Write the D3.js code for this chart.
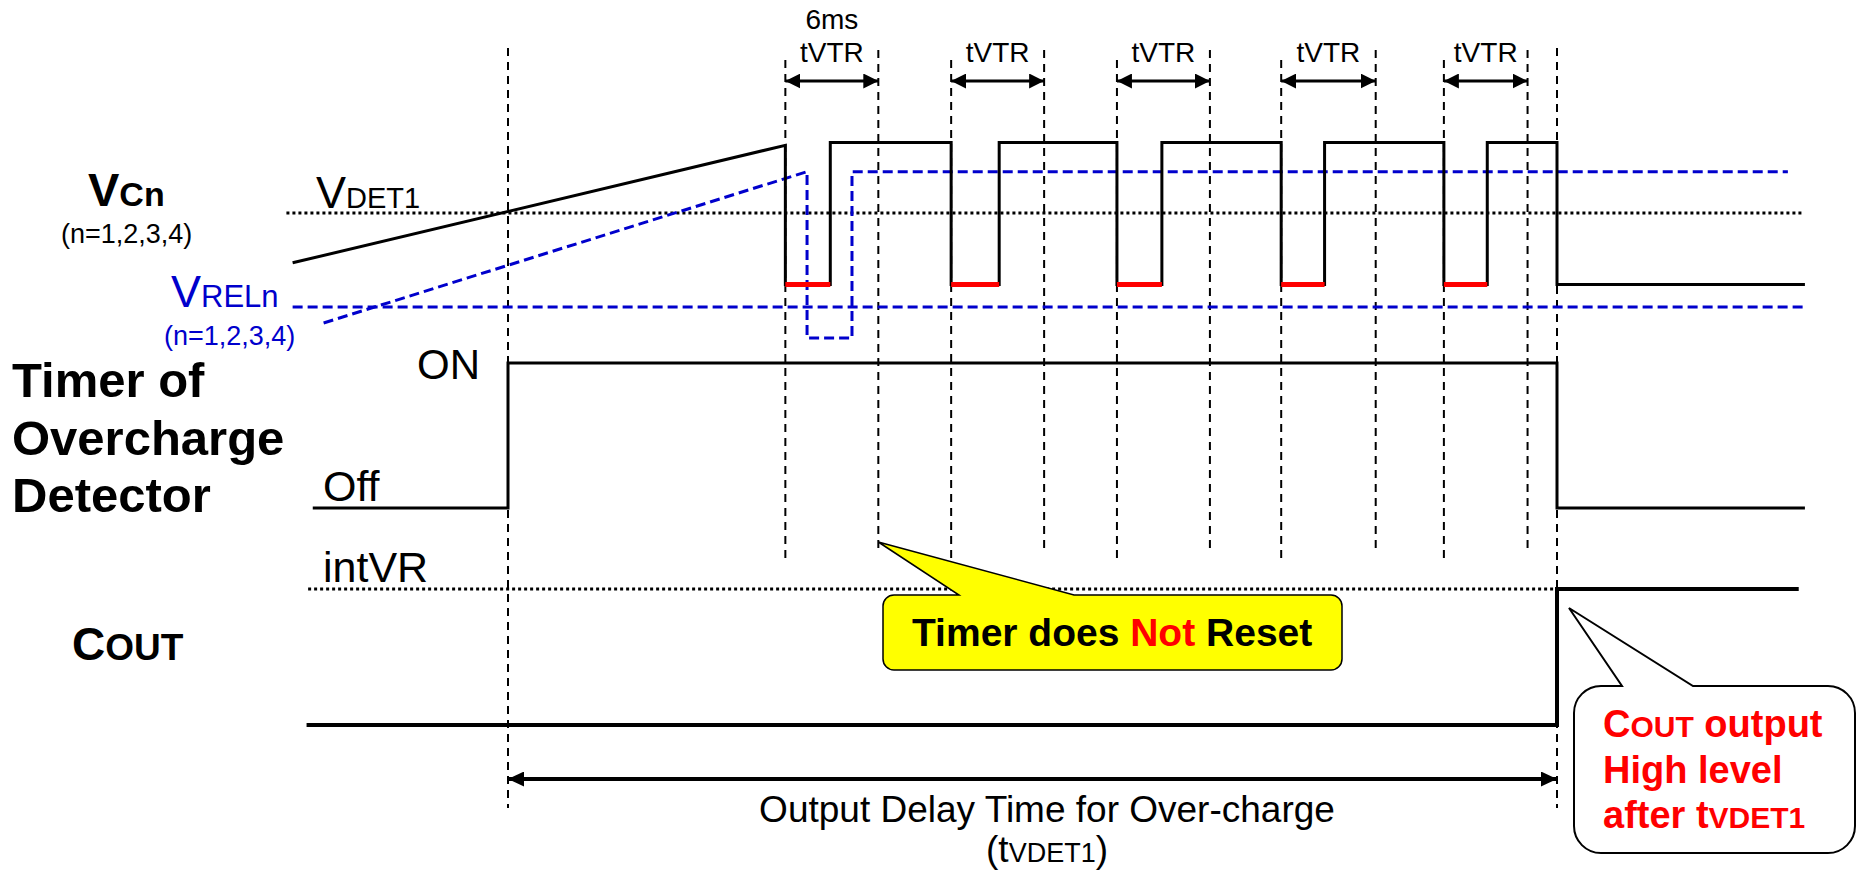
<!DOCTYPE html>
<html><head><meta charset="utf-8">
<script src="https://cdn.jsdelivr.net/npm/d3@7"></script>
<style>
html,body{margin:0;padding:0;background:#fff;}
svg{display:block;font-family:"Liberation Sans",Arial,sans-serif;}
</style>
</head><body>
<svg id="c" width="1858" height="878"></svg>
<script>
// ================= DATA =================
// time axis (arbitrary units, 6 units = tVTR = 6ms)
const tLeft = -13.9, tRight = 83.7;
const detectStart = 0;        // Vcn crosses VDET1 -> timer ON
const detectEnd = 67.7;       // tVDET1 elapsed -> COUT high
const pulseStart = [17.9, 28.6, 39.3, 49.9, 60.4];
const pulseEnd   = [20.8, 31.7, 42.2, 52.7, 63.2];
const tvtrEnd    = [23.9, 34.6, 45.3, 56.0, 65.8];
const tvtrLabels = ["tVTR", "tVTR", "tVTR", "tVTR", "tVTR"];
const firstTvtrValue = "6ms";

// voltage levels (V)
const vDet1 = 4.25, vRel = 4.15;
const vcnRampStart = 4.197, vcnRampEnd = 4.322, vcnHigh = 4.325, vcnLow = 4.174;
const relTimes  = [-11.9, 19.3, 19.3, 22.2, 22.2, 82.6];
const relValues = [4.133, 4.294, 4.117, 4.117, 4.294, 4.294];

// timer & COUT states
const timerStates = ["Off", "ON"];
const coutStates  = ["Low", "High"];
const timerTimes  = [-12.6, 0, 0, 67.7, 67.7, 83.7];
const timerValues = ["Off", "Off", "ON", "ON", "Off", "Off"];
const coutTimes   = [-13.0, 67.7, 67.7, 83.3];
const coutValues  = ["Low", "Low", "High", "High"];
const intVRStart = -12.9;

// ================= SCALES =================
const svg = d3.select("#c");
const x = d3.scaleLinear().domain([detectStart, detectEnd]).range([508, 1557]);
const yV = d3.scaleLinear().domain([vDet1, vRel]).range([213, 307]);
const yT = d3.scalePoint().domain(timerStates).range([508, 363]);
const yC = d3.scalePoint().domain(coutStates).range([725, 589]);

// ================= DEFS =================
const defs = svg.append("defs");
function marker(id, len, w) {
  defs.append("marker").attr("id", id)
    .attr("viewBox", `0 0 ${len} ${w}`).attr("refX", len).attr("refY", w / 2)
    .attr("markerWidth", len).attr("markerHeight", w)
    .attr("markerUnits", "userSpaceOnUse").attr("orient", "auto-start-reverse")
    .append("path").attr("d", `M0,0L${len},${w / 2}L0,${w}Z`).attr("fill", "#000");
}
marker("ah", 15, 15);
marker("ah2", 16, 15);

// ================= VERTICAL DASHED GUIDES =================
const gGuide = svg.append("g").attr("stroke", "#000").attr("stroke-width", 2)
  .attr("stroke-dasharray", "8,6").attr("fill", "none");
[detectStart, detectEnd].forEach(t => gGuide.append("line")
  .attr("x1", x(t)).attr("x2", x(t)).attr("y1", 48).attr("y2", 808));
pulseStart.forEach(t => gGuide.append("line")
  .attr("x1", x(t)).attr("x2", x(t)).attr("y1", 60).attr("y2", 562));
tvtrEnd.forEach(t => gGuide.append("line")
  .attr("x1", x(t)).attr("x2", x(t)).attr("y1", 50).attr("y2", 552));

// ================= REFERENCE LEVELS =================
svg.append("line").attr("x1", x(-14.3)).attr("x2", x(83.6))
  .attr("y1", yV(vDet1)).attr("y2", yV(vDet1))
  .attr("stroke", "#000").attr("stroke-width", 3).attr("stroke-dasharray", "3,3");
svg.append("line").attr("x1", x(-13.9)).attr("x2", x(83.7))
  .attr("y1", yV(vRel)).attr("y2", yV(vRel))
  .attr("stroke", "#0000cc").attr("stroke-width", 3).attr("stroke-dasharray", "10,5");
svg.append("line").attr("x1", x(intVRStart)).attr("x2", x(detectEnd))
  .attr("y1", yC("High")).attr("y2", yC("High"))
  .attr("stroke", "#000").attr("stroke-width", 3).attr("stroke-dasharray", "3,3");

// ================= VREL (blue dashed) =================
const relPts = relTimes.map((t, i) => [t, relValues[i]]);
svg.append("path").datum(relPts)
  .attr("d", d3.line().x(d => x(d[0])).y(d => yV(d[1])))
  .attr("fill", "none").attr("stroke", "#0000cc").attr("stroke-width", 3)
  .attr("stroke-dasharray", "10,5");

// ================= VCN waveform =================
const vcnPts = [[tLeft, vcnRampStart], [pulseStart[0], vcnRampEnd]];
pulseStart.forEach((s, i) => {
  if (i > 0) vcnPts.push([s, vcnHigh]);
  vcnPts.push([s, vcnLow], [pulseEnd[i], vcnLow], [pulseEnd[i], vcnHigh]);
});
vcnPts.push([detectEnd, vcnHigh], [detectEnd, vcnLow], [tRight, vcnLow]);
svg.append("path").datum(vcnPts)
  .attr("d", d3.line().x(d => x(d[0])).y(d => yV(d[1])))
  .attr("fill", "none").attr("stroke", "#000").attr("stroke-width", 3)
  .attr("stroke-linejoin", "miter");
svg.append("g").selectAll("line").data(pulseStart).join("line")
  .attr("x1", d => x(d)).attr("x2", (d, i) => x(pulseEnd[i]))
  .attr("y1", yV(vcnLow)).attr("y2", yV(vcnLow))
  .attr("stroke", "#ff0000").attr("stroke-width", 5);

// ================= TIMER =================
svg.append("path").datum(timerTimes.map((t, i) => [t, timerValues[i]]))
  .attr("d", d3.line().x(d => x(d[0])).y(d => yT(d[1])))
  .attr("fill", "none").attr("stroke", "#000").attr("stroke-width", 3);

// ================= COUT =================
svg.append("path").datum(coutTimes.map((t, i) => [t, coutValues[i]]))
  .attr("d", d3.line().x(d => x(d[0])).y(d => yC(d[1])))
  .attr("fill", "none").attr("stroke", "#000").attr("stroke-width", 4);

// ================= tVTR ARROWS =================
svg.append("g").selectAll("line").data(pulseStart).join("line")
  .attr("x1", d => x(d)).attr("x2", (d, i) => x(tvtrEnd[i]))
  .attr("y1", 81).attr("y2", 81)
  .attr("stroke", "#000").attr("stroke-width", 3)
  .attr("marker-start", "url(#ah)").attr("marker-end", "url(#ah)");

// ================= BOTTOM ARROW =================
svg.append("line").attr("x1", x(detectStart)).attr("x2", x(detectEnd))
  .attr("y1", 779).attr("y2", 779).attr("stroke", "#000").attr("stroke-width", 4)
  .attr("marker-start", "url(#ah2)").attr("marker-end", "url(#ah2)");

// ================= CALLOUTS =================
function callout(x0, y0, x1, y1, r, b1, b2, tx, ty) {
  return `M${x0 + r},${y0}L${b1},${y0}L${tx},${ty}L${b2},${y0}L${x1 - r},${y0}` +
    `A${r},${r} 0 0 1 ${x1},${y0 + r}L${x1},${y1 - r}A${r},${r} 0 0 1 ${x1 - r},${y1}` +
    `L${x0 + r},${y1}A${r},${r} 0 0 1 ${x0},${y1 - r}L${x0},${y0 + r}A${r},${r} 0 0 1 ${x0 + r},${y0}Z`;
}
svg.append("path").attr("d", callout(883, 595, 1342, 670, 11, 959, 1074, x(tvtrEnd[0]), 542))
  .attr("fill", "#ffff00").attr("stroke", "#000").attr("stroke-width", 1.5);
svg.append("path").attr("d", callout(1574, 686, 1855, 853, 27, 1622, 1693, x(detectEnd) + 12, 608))
  .attr("fill", "#fff").attr("stroke", "#000").attr("stroke-width", 2);

// ================= TEXT =================
function label(px, py, parts, o = {}) {
  const t = svg.append("text").attr("x", px).attr("y", py)
    .attr("text-anchor", o.anchor || "start")
    .attr("font-weight", o.weight || "normal")
    .attr("fill", o.fill || "#000");
  parts.forEach(p => t.append("tspan").attr("font-size", p[1])
    .attr("fill", p[2] || null).text(p[0]));
  return t;
}
// tVTR labels
label((x(pulseStart[0]) + x(tvtrEnd[0])) / 2, 29, [[firstTvtrValue, 28]], {anchor: "middle"});
tvtrLabels.forEach((s, i) =>
  label((x(pulseStart[i]) + x(tvtrEnd[i])) / 2, 62, [[s, 28]], {anchor: "middle"}));

// left labels
label(88, 206, [["V", 47], ["Cn", 34]], {weight: "bold"});
label(61, 243, [["(n=1,2,3,4)", 27]]);
label(316, 208, [["V", 45], ["DET1", 29]]);
label(171, 307, [["V", 45], ["RELn", 31]], {fill: "#0000cc"});
label(164, 345, [["(n=1,2,3,4)", 27]], {fill: "#0000cc"});
label(12, 397, [["Timer of", 49]], {weight: "bold"});
label(12, 455, [["Overcharge", 49]], {weight: "bold"});
label(12, 512, [["Detector", 49]], {weight: "bold"});
label(417, 379, [["ON", 42]]);
label(323, 501, [["Off", 43]]);
label(323, 582, [["intVR", 43]]);
label(72, 660, [["C", 46], ["OUT", 37]], {weight: "bold"});

// callout texts
label(912, 646, [["Timer does ", 39], ["Not", 39, "#ff0000"], [" Reset", 39]], {weight: "bold"});
label(1603, 737, [["C", 38], ["OUT", 30], [" output", 38]], {weight: "bold", fill: "#ff0000"});
label(1603, 783, [["High level", 38]], {weight: "bold", fill: "#ff0000"});
label(1603, 828, [["after t", 38], ["VDET1", 30]], {weight: "bold", fill: "#ff0000"});

// bottom
label(1047, 822, [["Output Delay Time for Over-charge", 37]], {anchor: "middle"});
label(1047, 862, [["(t", 37], ["VDET1", 27], [")", 37]], {anchor: "middle"});
</script>
</body></html>
